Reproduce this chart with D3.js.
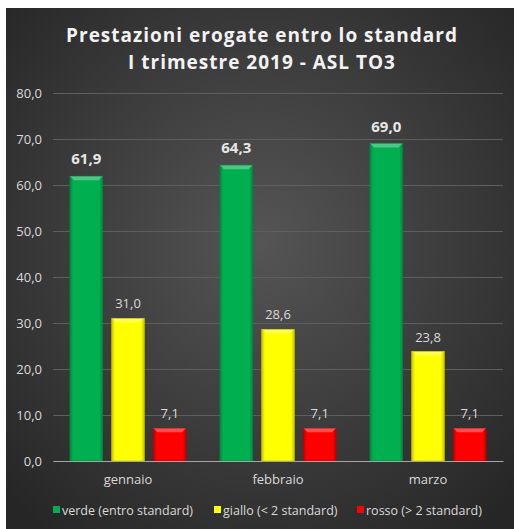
<!DOCTYPE html>
<meta charset="utf-8">
<script src="https://d3js.org/d3.v7.min.js"></script>
<style>
  body { margin: 0; background: #fff; }
  svg text { font-family: "Open Sans", sans-serif; }
</style>
<div id="my_dataviz"></div>
<script>
  // data
  var months = ["gennaio", "febbraio", "marzo"];
  var seriesNames = ["verde (entro standard)", "giallo (< 2 standard)", "rosso (> 2 standard)"];
  var verde = [61.9, 64.3, 69.0];
  var giallo = [31.0, 28.6, 23.8];
  var rosso = [7.1, 7.1, 7.1];
  var yTicks = [0, 10, 20, 30, 40, 50, 60, 70, 80];
  var colors = ["#00b050", "#ffff00", "#ff0000"];
  var darker = ["#008a3e", "#c8c800", "#c00000"];

  var W = 514, H = 529;
  var margin = { top: 93, right: 11, bottom: 68, left: 53 },
    width = W - margin.left - margin.right,
    height = H - margin.top - margin.bottom;

  var fmt = function(v) { return d3.format(".1f")(v).replace(".", ","); };

  var svg = d3.select("#my_dataviz")
    .append("svg")
    .attr("width", W)
    .attr("height", H);

  var defs = svg.append("defs");
  var bg = defs.append("radialGradient").attr("id", "bg")
    .attr("cx", "50%").attr("cy", "45%").attr("r", "70%");
  bg.append("stop").attr("offset", "0%").attr("stop-color", "#555555");
  bg.append("stop").attr("offset", "100%").attr("stop-color", "#262626");

  colors.forEach(function(c, i) {
    var g = defs.append("linearGradient").attr("id", "bar" + i)
      .attr("x1", 0).attr("x2", 1).attr("y1", 0).attr("y2", 0);
    g.append("stop").attr("offset", "0%").attr("stop-color", darker[i]);
    g.append("stop").attr("offset", "10%").attr("stop-color", c);
    g.append("stop").attr("offset", "90%").attr("stop-color", c);
    g.append("stop").attr("offset", "100%").attr("stop-color", darker[i]);
  });

  svg.append("rect")
    .attr("x", 6).attr("y", 8)
    .attr("width", W - 6).attr("height", H - 8)
    .attr("fill", "url(#bg)");

  // title
  var title = svg.append("text")
    .attr("x", 262)
    .attr("text-anchor", "middle")
    .attr("fill", "#f2f2f2")
    .style("font-size", "19px")
    .style("font-weight", "bold")
    .style("letter-spacing", "1px");
  title.append("tspan").attr("x", 262).attr("y", 42).text("Prestazioni erogate entro lo standard");
  title.append("tspan").attr("x", 262).attr("y", 69).text("I trimestre 2019 - ASL TO3");

  var g = svg.append("g")
    .attr("transform", "translate(" + margin.left + "," + margin.top + ")");

  var x = d3.scaleBand().domain(months).range([0, width]).paddingInner(0).paddingOuter(0);
  var x1 = d3.scaleBand().domain([0, 1, 2]).range([17, x.bandwidth() - 17]).paddingInner(0.22);
  var y = d3.scaleLinear().domain([0, 80]).range([height, 0]);

  // gridlines
  g.append("g")
    .call(d3.axisLeft(y).tickValues(yTicks).tickSize(-width).tickFormat(fmt))
    .call(function(a) {
      a.select(".domain").remove();
      a.selectAll(".tick line").attr("stroke", "#5e5e5e").attr("stroke-width", 1);
      a.selectAll(".tick text").attr("fill", "#d9d9d9").attr("x", -11)
        .style("font-size", "13px");
    });

  var rows = [verde, giallo, rosso];
  var data = [];
  months.forEach(function(m, i) {
    rows.forEach(function(r, s) { data.push({ month: m, s: s, value: r[i] }); });
  });

  var bars = g.selectAll(".bar").data(data).enter().append("g")
    .attr("transform", function(d) { return "translate(" + (x(d.month) + x1(d.s)) + ",0)"; });

  bars.append("rect")
    .attr("y", function(d) { return y(d.value); })
    .attr("width", x1.bandwidth())
    .attr("height", function(d) { return height - y(d.value); })
    .attr("fill", function(d) { return "url(#bar" + d.s + ")"; })
    .attr("stroke", function(d) { return darker[d.s]; })
    .attr("stroke-width", 0.8);

  // bevel highlight at top of bars
  bars.append("path")
    .attr("d", function(d) {
      var t = y(d.value), w = x1.bandwidth();
      return "M0," + t + "L" + w + "," + t + "L" + (w - 4) + "," + (t + 4) + "L4," + (t + 4) + "Z";
    })
    .attr("fill", "#ffffff")
    .attr("opacity", 0.3);

  bars.append("text")
    .attr("x", x1.bandwidth() / 2)
    .attr("y", function(d) { return y(d.value) - (d.s === 0 ? 12 : 10); })
    .attr("text-anchor", "middle")
    .attr("fill", function(d) { return d.s === 0 ? "#e6e6e6" : "#d9d9d9"; })
    .style("font-size", function(d) { return d.s === 0 ? "15px" : "13px"; })
    .style("font-weight", function(d) { return d.s === 0 ? "bold" : "normal"; })
    .text(function(d) { return fmt(d.value); });

  // x axis
  g.append("g")
    .attr("transform", "translate(0," + height + ")")
    .call(d3.axisBottom(x).tickSize(0).tickPadding(14))
    .call(function(a) {
      a.select(".domain").attr("stroke", "#a6a6a6").attr("stroke-width", 1.2);
      a.selectAll(".tick text").attr("fill", "#d9d9d9").style("font-size", "13px");
    });

  // legend
  var legX = [53, 214, 357];
  var leg = svg.append("g").selectAll("g").data(seriesNames).enter().append("g")
    .attr("transform", function(d, i) { return "translate(" + legX[i] + ",510)"; });
  leg.append("rect")
    .attr("x", 0).attr("y", -4)
    .attr("width", 7).attr("height", 7)
    .attr("fill", function(d, i) { return colors[i]; });
  leg.append("text")
    .attr("x", 9).attr("y", 4.5)
    .attr("fill", "#d9d9d9")
    .style("font-size", "12.5px")
    .text(function(d) { return d; });
</script>
